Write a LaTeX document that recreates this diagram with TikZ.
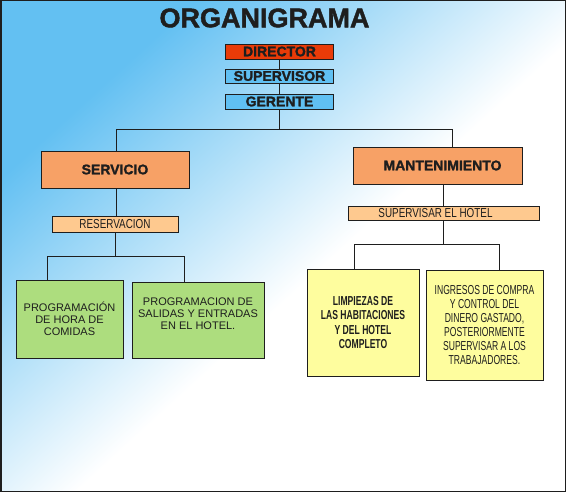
\documentclass[tikz,border=0pt]{standalone}
\usepackage{fontspec}
\setmainfont{Liberation Sans}
\newfontfamily\narrowfont[FakeStretch=0.66]{Liberation Sans}
\newfontfamily\semifont[FakeStretch=0.76]{Liberation Sans}
\newfontfamily\heavyfont[FakeBold=1.6]{Liberation Sans Bold}
\usepackage{tikz}
\usetikzlibrary{positioning}
\definecolor{bgblue}{RGB}{99,192,242}
\definecolor{dirred}{RGB}{233,59,8}
\definecolor{topblue}{RGB}{96,192,242}
\definecolor{areaorange}{RGB}{247,161,102}
\definecolor{taskpeach}{RGB}{254,201,143}
\definecolor{jobgreen}{RGB}{173,221,126}
\definecolor{jobyellow}{RGB}{254,253,158}
\definecolor{ink}{RGB}{30,30,30}
\pgfdeclarehorizontalshading{bgshade}{100bp}{color(0bp)=(bgblue); color(27bp)=(bgblue); color(54bp)=(white); color(100bp)=(white)}
\tikzset{
  box/.style={draw=ink, line width=0.9pt, inner sep=0pt, text=ink, align=center},
  headbox/.style={box, minimum width=108pt, minimum height=15pt, font=\heavyfont\fontsize{14}{14}\selectfont},
  areabox/.style={box, fill=areaorange, minimum height=37pt, font=\heavyfont\fontsize{14}{14}\selectfont},
  taskbox/.style={box, fill=taskpeach, font=\semifont\fontsize{13}{13}\selectfont},
  greenbox/.style={box, fill=jobgreen, font=\fontsize{11}{12}\selectfont},
  yellowbox/.style={box, fill=jobyellow, font=\narrowfont\fontsize{13}{14}\selectfont},
  elbow/.style={to path={-- ++(0,#1) -| (\tikztotarget)}}
}

\begin{document}
\begin{tikzpicture}[x=1pt,y=-1pt]
\useasboundingbox (0,0) rectangle (566,492);
\shade[shading=bgshade, shading angle=-47.6] (0,0) rectangle (566,492);
\draw[ink, line width=1.5pt] (0.75,0.75) rectangle (565.25,491.25);

\node[text=ink, font=\heavyfont\fontsize{27}{27}\selectfont] (T) at (264.5,18) {ORGANIGRAMA};

\node[headbox, fill=dirred] (D) at (279.5,51.5) {DIRECTOR};
\node[headbox, fill=topblue, minimum height=14pt] (S) at (279.5,76) {SUPERVISOR};
\node[headbox, fill=topblue] (G) at (279.5,101.5) {GERENTE};

\node[areabox, minimum width=148pt] (SV) at (115,169.5) {SERVICIO};
\node[areabox, minimum width=169pt] (M) at (437.5,165.5) {\hspace*{10pt}MANTENIMIENTO};

\node[taskbox, minimum width=126pt, minimum height=16pt] (R) at (115,224) {RESERVACION};
\node[taskbox, minimum width=191pt, minimum height=14pt] (H) at (443.5,213) {SUPERVISAR EL HOTEL\hspace*{16pt}};

\node[greenbox, minimum width=107pt, minimum height=78pt] (P1) at (69.5,319) {PROGRAMACIÓN\\DE HORA DE\\COMIDAS};
\node[greenbox, minimum width=132pt, minimum height=76pt] (P2) at (198,320) {PROGRAMACION DE\\SALIDAS Y ENTRADAS\\EN EL HOTEL.\\ {}};

\node[yellowbox, minimum width=112pt, minimum height=107pt, font=\narrowfont\fontsize{13}{14.5}\selectfont\bfseries] (L) at (363,322.5) {LIMPIEZAS DE\\LAS HABITACIONES\\Y DEL HOTEL\\COMPLETO};
\node[yellowbox, minimum width=117pt, minimum height=110pt] (I) at (484.5,325) {INGRESOS DE COMPRA\\Y CONTROL DEL\\DINERO GASTADO,\\POSTERIORMENTE\\SUPERVISAR A LOS\\TRABAJADORES.};

\path[draw=ink, line width=0.9pt]
(D) edge (S)
(S) edge (G)
(G.south) edge[elbow=20] ([xshift=1pt]SV.north)
(G.south) edge[elbow=20] ([xshift=14.5pt]M.north)
([xshift=1pt]SV.south) edge ([xshift=1pt]R.north)
(R.south) edge[elbow=24] ([xshift=-22.5pt]P1.north)
(R.south) edge[elbow=24] ([xshift=-14pt]P2.north)
(H.north |- M.south) edge (H.north)
(H.south) edge[elbow=24] ([xshift=-9pt]L.north)
(H.south) edge[elbow=24] ([xshift=14.5pt]I.north);
\end{tikzpicture}
\end{document}
